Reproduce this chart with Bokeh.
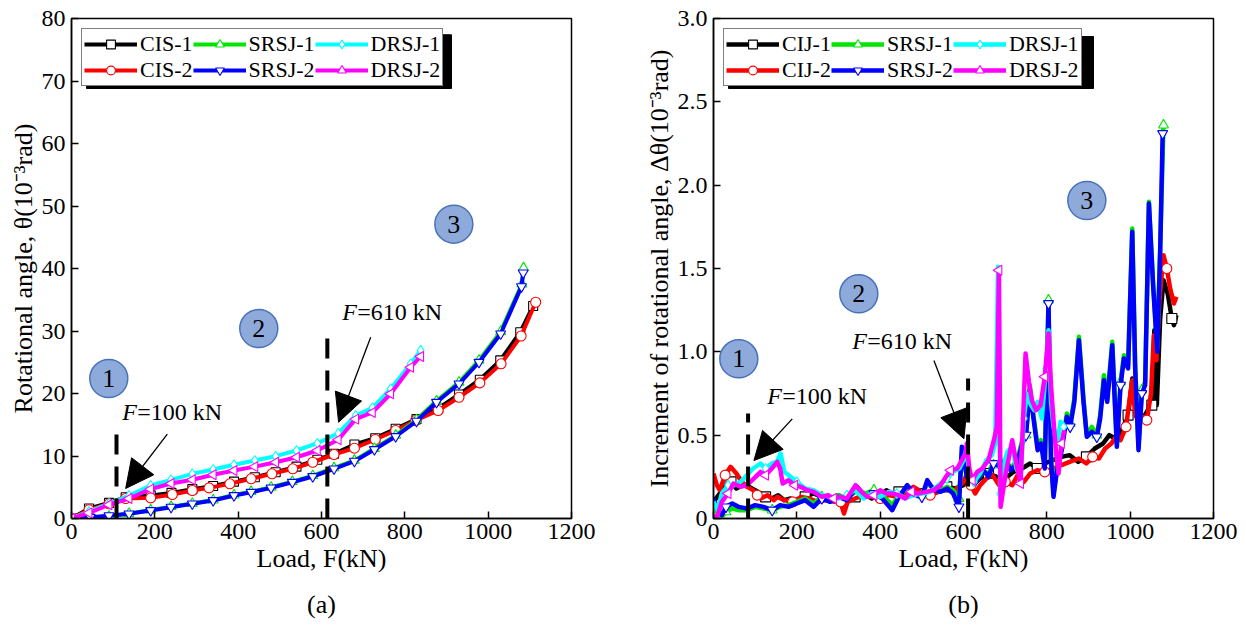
from bokeh.plotting import figure
from bokeh.layouts import row
from bokeh.models import Range1d, FixedTicker, Legend, LegendItem, Label, Arrow, NormalHead, Title
from bokeh.core.properties import value
from bokeh.embed import file_html
from bokeh.resources import INLINE

FONT = "Liberation Serif, Times New Roman, Times, serif"

# ---------------- panel (a) data : load F (kN) vs rotational angle (1e-3 rad)
X_TICKS = [0, 200, 400, 600, 800, 1000, 1200]
A_Y_TICKS = [0, 10, 20, 30, 40, 50, 60, 70, 80]
B_Y_TICKS = [0, 0.5, 1, 1.5, 2, 2.5, 3]
B_Y_LABELS = {0: "0", 1: "1.0", 2: "2.0", 3: "3.0"}

A_F_CIS1 = [0, 42, 90, 130, 190, 240, 290, 340, 390, 440, 490, 540, 590, 630, 679, 729, 778, 828, 880, 930, 980, 1029, 1077, 1108]
A_CIS1 = [0, 1.6, 2.5, 3.4, 3.7, 4.1, 4.7, 5.2, 5.9, 6.6, 7.4, 8.3, 9.4, 10.35, 11.84, 12.85, 14.35, 15.9, 17.6, 19.84, 22.2, 25.3, 29.8, 34.0]
A_F_CIS2 = [0, 42, 90, 130, 190, 242, 290, 330, 380, 431, 481, 531, 579, 630, 679, 729, 778, 826, 880, 930, 980, 1031, 1079, 1114]
A_CIS2 = [0, 1.4, 2.35, 3.2, 3.3, 3.84, 4.48, 4.9, 5.55, 6.35, 7.15, 7.95, 9.0, 10.24, 11.25, 12.64, 14.08, 15.68, 17.28, 19.4, 21.7, 24.75, 29.2, 34.6]
A_F_SRSJ1 = [0, 45, 90, 138, 190, 239, 290, 340, 390, 431, 479, 530, 579, 630, 679, 727, 778, 828, 876, 930, 978, 1030, 1081, 1085]
A_SRSJ1 = [0, 0.15, 0.35, 0.8, 1.35, 1.9, 2.4, 2.95, 3.75, 4.3, 5.0, 5.9, 6.85, 8.1, 9.3, 11.2, 13.3, 15.8, 18.8, 21.8, 25.3, 29.9, 37.5, 40.1]
A_F_SRSJ2 = [0, 45, 90, 138, 190, 239, 290, 340, 390, 431, 479, 530, 579, 630, 679, 727, 778, 828, 876, 930, 978, 1030, 1080, 1084]
A_SRSJ2 = [0, 0.2, 0.45, 0.75, 1.28, 1.81, 2.35, 2.88, 3.68, 4.2, 4.9, 5.8, 6.72, 7.95, 9.17, 11.04, 13.12, 15.57, 18.6, 21.55, 25.0, 29.55, 37.1, 39.3]
A_F_DRSJ1 = [0, 42, 90, 138, 190, 239, 290, 340, 390, 440, 490, 540, 590, 640, 682, 722, 766, 814, 838]
A_DRSJ1 = [0, 1.1, 2.4, 3.68, 5.28, 6.19, 7.15, 7.84, 8.59, 9.28, 9.97, 10.88, 12.05, 13.65, 16.48, 17.71, 20.75, 24.75, 26.9]
A_F_DRSJ2 = [0, 42, 90, 138, 190, 239, 290, 340, 390, 440, 490, 540, 590, 640, 682, 722, 766, 814, 838]
A_DRSJ2 = [0, 0.9, 2.2, 3.2, 4.7, 5.6, 6.19, 7.0, 7.68, 8.3, 9.0, 9.8, 10.88, 12.59, 15.9, 16.96, 19.95, 24.2, 25.92]

# ---------------- panel (b) data : load F (kN) vs increment of rotational angle
B_CIJ1 = [(0, 0.1), (15, 0.15), (30, 0.2), (42, 0.22), (55, 0.18), (70, 0.2), (85, 0.19), (100, 0.17), (113, 0.15),
          (125, 0.13), (140, 0.12), (155, 0.14), (170, 0.11), (185, 0.12), (200, 0.1), (220, 0.13), (240, 0.15),
          (260, 0.13), (280, 0.12), (300, 0.14), (320, 0.11), (340, 0.13), (360, 0.15), (380, 0.12), (400, 0.14),
          (415, 0.17), (430, 0.15), (445, 0.16), (460, 0.13), (480, 0.15), (500, 0.17), (520, 0.15), (540, 0.17),
          (560, 0.19), (580, 0.18), (600, 0.2), (612, 0.24), (622, 0.2), (640, 0.24), (660, 0.27), (680, 0.25),
          (700, 0.24), (720, 0.28), (740, 0.3), (760, 0.33), (777, 0.3), (795, 0.33), (815, 0.35), (835, 0.37),
          (855, 0.38), (875, 0.34), (895, 0.37), (915, 0.42), (935, 0.45), (950, 0.5), (965, 0.48), (980, 0.53),
          (995, 0.62), (1005, 0.84), (1015, 0.62), (1025, 0.6), (1035, 0.62), (1045, 0.66), (1052, 0.68),
          (1058, 1.13), (1064, 0.68), (1072, 1.2), (1080, 1.43), (1090, 1.35), (1100, 1.2), (1105, 1.16), (1111, 1.22)]
B_CIJ2 = [(0, 0.27), (8, 0.2), (15, 0.17), (28, 0.26), (41, 0.31), (55, 0.27), (68, 0.22), (81, 0.19), (95, 0.17),
          (105, 0.14), (113, 0.12), (130, 0.14), (145, 0.11), (153, 0.13), (170, 0.11), (190, 0.1), (210, 0.13),
          (230, 0.12), (250, 0.1), (270, 0.11), (290, 0.1), (305, 0.1), (313, 0.03), (322, 0.1), (340, 0.12),
          (360, 0.14), (380, 0.13), (400, 0.12), (420, 0.14), (440, 0.13), (460, 0.15), (480, 0.19), (500, 0.16),
          (520, 0.14), (540, 0.16), (560, 0.18), (580, 0.17), (600, 0.22), (609, 0.27), (618, 0.2), (628, 0.15),
          (640, 0.2), (655, 0.24), (670, 0.26), (685, 0.2), (700, 0.22), (717, 0.2), (730, 0.26), (745, 0.22),
          (760, 0.27), (777, 0.29), (795, 0.28), (815, 0.3), (835, 0.32), (855, 0.34), (877, 0.36), (895, 0.33),
          (910, 0.37), (925, 0.36), (940, 0.42), (955, 0.45), (968, 0.5), (977, 0.47), (990, 0.55), (998, 0.7),
          (1005, 0.83), (1012, 0.62), (1022, 0.58), (1033, 0.61), (1040, 0.59), (1050, 0.75), (1057, 1.1),
          (1063, 0.95), (1070, 1.3), (1080, 1.58), (1088, 1.5), (1096, 1.38), (1105, 1.29), (1111, 1.33)]
B_SRSJ1 = [(0, 0.08), (10, 0.03), (20, 0.01), (30, 0.04), (45, 0.06), (60, 0.05), (80, 0.05), (100, 0.07), (120, 0.06),
           (141, 0.05), (160, 0.07), (180, 0.08), (200, 0.1), (220, 0.12), (240, 0.09), (260, 0.13), (280, 0.11),
           (300, 0.14), (320, 0.12), (345, 0.17), (365, 0.15), (385, 0.17), (405, 0.14), (429, 0.08), (445, 0.14),
           (465, 0.18), (485, 0.15), (500, 0.14), (513, 0.21), (529, 0.18), (545, 0.17), (561, 0.19), (575, 0.17),
           (589, 0.12), (596, 0.38), (608, 0.26), (628, 0.22), (648, 0.28), (660, 0.27), (672, 0.32), (689, 0.32),
           (701, 0.36), (713, 0.3), (729, 0.35), (741, 0.47), (750, 0.5), (759, 0.8), (768, 0.62), (778, 0.43),
           (786, 0.47), (795, 0.33), (804, 1.31), (810, 0.37), (816, 0.15), (825, 0.32), (835, 0.42), (848, 0.63),
           (856, 0.57), (866, 0.72), (877, 1.09), (888, 0.72), (896, 0.5), (908, 0.55), (920, 0.5), (928, 0.62),
           (937, 0.86), (945, 0.72), (957, 1.06), (968, 0.46), (977, 0.82), (985, 0.98), (995, 0.92), (1005, 1.74),
           (1012, 0.92), (1020, 0.43), (1028, 0.77), (1036, 0.82), (1045, 1.9), (1055, 1.42), (1065, 1.02),
           (1072, 1.62), (1080, 2.36)]
B_SRSJ2 = [(0, 0.12), (10, 0.05), (20, 0.02), (30, 0.07), (45, 0.09), (60, 0.07), (80, 0.06), (100, 0.08), (120, 0.07),
           (141, 0.05), (160, 0.08), (180, 0.07), (200, 0.09), (220, 0.11), (240, 0.07), (260, 0.12), (280, 0.1),
           (300, 0.13), (320, 0.11), (345, 0.19), (365, 0.13), (385, 0.15), (405, 0.12), (429, 0.05), (445, 0.13),
           (465, 0.2), (485, 0.14), (500, 0.13), (513, 0.23), (529, 0.17), (545, 0.16), (561, 0.18), (575, 0.15),
           (589, 0.07), (596, 0.43), (608, 0.25), (628, 0.21), (648, 0.29), (660, 0.25), (672, 0.33), (689, 0.31),
           (701, 0.35), (713, 0.29), (729, 0.33), (741, 0.45), (750, 0.5), (759, 0.77), (768, 0.6), (778, 0.41),
           (786, 0.45), (795, 0.3), (804, 1.29), (810, 0.35), (816, 0.13), (825, 0.3), (835, 0.4), (848, 0.61),
           (856, 0.55), (866, 0.7), (877, 1.07), (888, 0.7), (896, 0.49), (908, 0.52), (920, 0.49), (928, 0.6),
           (937, 0.83), (945, 0.7), (957, 1.04), (968, 0.43), (977, 0.8), (985, 0.96), (995, 0.9), (1005, 1.72),
           (1012, 0.9), (1020, 0.41), (1028, 0.75), (1036, 0.8), (1045, 1.89), (1055, 1.4), (1065, 1.0),
           (1072, 1.6), (1078, 2.31)]
B_DRSJ1 = [(0, 0.1), (10, 0.05), (20, 0.15), (35, 0.2), (50, 0.2), (65, 0.22), (80, 0.26), (95, 0.3), (113, 0.33),
           (125, 0.3), (140, 0.33), (152, 0.34), (161, 0.39), (170, 0.28), (185, 0.25), (200, 0.22), (220, 0.18),
           (240, 0.17), (260, 0.14), (280, 0.13), (300, 0.12), (320, 0.14), (340, 0.17), (360, 0.12), (380, 0.15),
           (400, 0.13), (420, 0.16), (440, 0.15), (460, 0.12), (480, 0.14), (500, 0.15), (520, 0.16), (540, 0.2),
           (560, 0.24), (575, 0.28), (590, 0.3), (600, 0.35), (607, 0.42), (615, 0.25), (625, 0.22), (640, 0.27),
           (655, 0.35), (668, 0.38), (676, 0.45), (683, 1.51), (688, 0.15), (695, 0.3), (705, 0.4), (717, 0.43),
           (727, 0.3), (737, 0.25), (745, 0.6), (752, 0.75), (762, 0.68), (770, 0.65), (778, 0.7), (788, 0.6),
           (798, 0.9), (804, 1.13), (810, 0.7), (816, 0.55), (825, 0.45), (833, 0.58), (840, 0.55)]
B_DRSJ2 = [(0, 0.0), (10, 0.02), (20, 0.1), (35, 0.15), (48, 0.21), (65, 0.19), (80, 0.2), (101, 0.25), (113, 0.28),
           (125, 0.26), (140, 0.3), (153, 0.34), (160, 0.3), (166, 0.21), (180, 0.23), (195, 0.2), (209, 0.19),
           (225, 0.17), (240, 0.16), (260, 0.13), (275, 0.14), (288, 0.12), (305, 0.13), (320, 0.12), (341, 0.2),
           (355, 0.16), (369, 0.13), (385, 0.14), (400, 0.17), (415, 0.15), (429, 0.15), (445, 0.14), (460, 0.12),
           (475, 0.16), (490, 0.15), (510, 0.16), (529, 0.17), (545, 0.2), (558, 0.25), (569, 0.29), (585, 0.3),
           (596, 0.35), (605, 0.39), (608, 0.45), (614, 0.3), (621, 0.23), (633, 0.28), (645, 0.3), (660, 0.35),
           (673, 0.47), (680, 0.55), (685, 1.49), (689, 0.07), (700, 0.25), (710, 0.38), (717, 0.47), (727, 0.33),
           (737, 0.21), (749, 0.99), (757, 0.82), (764, 0.71), (774, 0.65), (785, 0.68), (795, 0.85), (804, 1.11),
           (810, 0.8), (816, 0.59), (822, 0.4), (828, 0.27), (835, 0.45), (842, 0.53)]

# styles per series: (colour, marker, angle)
STYLE = {
    "1": ("black", "square", 0.0),
    "2": ("#ff0000", "circle", 0.0),
    "S1": ("#00e600", "triangle", 0.0),
    "S2": ("#0000ff", "inverted_triangle", 0.0),
    "D1": ("#00ffff", "diamond", 0.0),
    "D2": ("#ff00ff", "triangle", 1.5708),
}


def make_fig(width, left, right, yr):
    p = figure(width=width, height=631, x_range=Range1d(0, 1200), y_range=Range1d(*yr),
               output_backend="svg", toolbar_location=None, title=None,
               min_border_left=left, min_border_right=right, min_border_top=18, min_border_bottom=113)
    p.grid.visible = False
    p.outline_line_color = "black"
    p.outline_line_width = 1.5
    p.background_fill_color = "white"
    p.border_fill_color = "white"
    for ax in (p.xaxis[0], p.yaxis[0]):
        ax.axis_line_width = 1.5
        ax.axis_line_color = "black"
        ax.major_tick_in = 7
        ax.major_tick_out = 0
        ax.major_tick_line_width = 1.5
        ax.minor_tick_in = 0
        ax.minor_tick_out = 0
        ax.major_label_text_font = FONT
        ax.major_label_text_font_size = "24px"
        ax.major_label_text_color = "black"
        ax.axis_label_text_font = FONT
        ax.axis_label_text_font_size = "26px"
        ax.axis_label_text_font_style = "normal"
        ax.axis_label_text_color = "black"
    p.xaxis.major_label_standoff = 5
    p.xaxis.axis_label_standoff = 2
    p.yaxis.major_label_standoff = 6
    p.yaxis.axis_label_standoff = 1
    p.xaxis.ticker = FixedTicker(ticks=X_TICKS)
    p.xaxis.axis_label = "Load, F(kN)"
    return p


def add_series(p, xs, ys, key, lw, msize, every=1, start=0):
    col, mk, ang = STYLE[key]
    lr = p.line(xs, ys, line_color=col, line_width=lw, line_join="round")
    mr = p.scatter(xs[start::every], ys[start::every], marker=mk, angle=ang, size=msize,
                   fill_color="white", line_color=col, line_width=1.1)
    return lr, mr


def add_legend(p, names, rends, sx, sy):
    # shadow box behind legend
    p.quad(left=[sx[0]], right=[sx[1]], bottom=[sy[0]], top=[sy[1]], fill_color="black", line_color="black")
    order = [0, 2, 4, 1, 3, 5]
    items = [LegendItem(label=names[i], renderers=list(rends[i])) for i in order]
    leg = Legend(items=items, location="top_left", orientation="horizontal", ncols=3, nrows=2,
                 label_text_font=FONT, label_text_font_size="22px", label_text_color="black",
                 glyph_width=53, glyph_height=22, label_standoff=3, spacing=0, padding=2, margin=10,
                 border_line_color="black", border_line_width=1.5, background_fill_alpha=1.0,
                 label_height=22, label_width=20)
    p.add_layout(leg)


def f_label(p, x, y, rest):
    p.add_layout(Label(x=x, y=y, text="F", text_font=FONT, text_font_size="24px", text_font_style="italic",
                       text_baseline="middle", text_align="left", text_color="black"))
    p.add_layout(Label(x=x, y=y, x_offset=15, text=rest, text_font=FONT, text_font_size="24px",
                       text_baseline="middle", text_align="left", text_color="black"))


def zones(p, xs, ys):
    p.scatter(xs, ys, marker="circle", size=38, fill_color="#8eaadb", line_color="#4a72b8", line_width=1.5)
    p.text(xs, ys, text=["1", "2", "3"], text_font=value(FONT), text_font_size="26px",
           text_align="center", text_baseline="middle", text_color="black")


def caption(p, txt):
    p.add_layout(Title(text=txt, align="center", vertical_align="bottom", text_font=FONT,
                       text_font_size="26px", text_font_style="normal", text_color="black",
                       standoff=25), "below")


# ===================== panel (a)
pa = make_fig(641, 71, 70, (0, 80))
pa.yaxis.ticker = FixedTicker(ticks=A_Y_TICKS)
pa.yaxis.axis_label = "Rotational angle, θ(10⁻³rad)"

ra = [
    add_series(pa, A_F_CIS1, A_CIS1, "1", 4, 9),
    add_series(pa, A_F_CIS2, A_CIS2, "2", 4, 10),
    add_series(pa, A_F_SRSJ1, A_SRSJ1, "S1", 4, 10),
    add_series(pa, A_F_SRSJ2, A_SRSJ2, "S2", 4, 10),
    add_series(pa, A_F_DRSJ1, A_DRSJ1, "D1", 4, 10),
    add_series(pa, A_F_DRSJ2, A_DRSJ2, "D2", 4, 10),
]
add_legend(pa, ["CIS-1", "CIS-2", "SRSJ-1", "SRSJ-2", "DRSJ-1", "DRSJ-2"], ra, (36, 912), (68.8, 77.4))

pa.segment(x0=[108, 614], y0=[0, 0], x1=[108, 614], y1=[15, 30], line_color="black",
           line_width=4, line_dash="20 12")
f_label(pa, 122, 17.0, "=100 kN")
f_label(pa, 650, 33.1, "=610 kN")
pa.add_layout(Arrow(end=NormalHead(size=28, fill_color="black", line_color="black"),
                    x_start=230, y_start=13.5, x_end=130, y_end=4.8, line_width=1.3, line_color="black"))
pa.add_layout(Arrow(end=NormalHead(size=28, fill_color="black", line_color="black"),
                    x_start=718, y_start=29, x_end=641, y_end=15.4, line_width=1.3, line_color="black"))
zones(pa, [89.5, 449.5, 917.6], [22.4, 30.4, 47.1])
caption(pa, "(a)")

# ===================== panel (b)
pb = make_fig(605, 72, 33, (0, 3))
pb.yaxis.ticker = FixedTicker(ticks=B_Y_TICKS)
pb.yaxis.major_label_overrides = B_Y_LABELS
pb.yaxis.axis_label = "Increment of rotational angle, Δθ(10⁻³rad)"

rb = []
for data, key in [(B_CIJ1, "1"), (B_CIJ2, "2"), (B_SRSJ1, "S1"), (B_SRSJ2, "S2"), (B_DRSJ1, "D1"), (B_DRSJ2, "D2")]:
    fx = [d[0] for d in data]
    fy = [d[1] for d in data]
    rb.append(add_series(pb, fx, fy, key, 4.5, 10, every=6, start=3))
add_legend(pb, ["CIJ-1", "CIJ-2", "SRSJ-1", "SRSJ-2", "DRSJ-1", "DRSJ-2"], rb, (36, 912), (2.58, 2.892))

pb.segment(x0=[83, 611], y0=[0, 0], x1=[83, 611], y1=[0.63, 0.84], line_color="black",
           line_width=4, line_dash="20 12")
f_label(pb, 129, 0.736, "=100 kN")
f_label(pb, 333, 1.068, "=610 kN")
pb.add_layout(Arrow(end=NormalHead(size=28, fill_color="black", line_color="black"),
                    x_start=189, y_start=0.598, x_end=97, y_end=0.348, line_width=1.3, line_color="black"))
pb.add_layout(Arrow(end=NormalHead(size=28, fill_color="black", line_color="black"),
                    x_start=529, y_start=0.948, x_end=601, y_end=0.478, line_width=1.3, line_color="black"))
zones(pb, [60.7, 348.8, 896], [0.958, 1.348, 1.908])
caption(pb, "(b)")

layout = row(pa, pb, spacing=0)
open("out.html", "w").write(file_html(layout, INLINE))
